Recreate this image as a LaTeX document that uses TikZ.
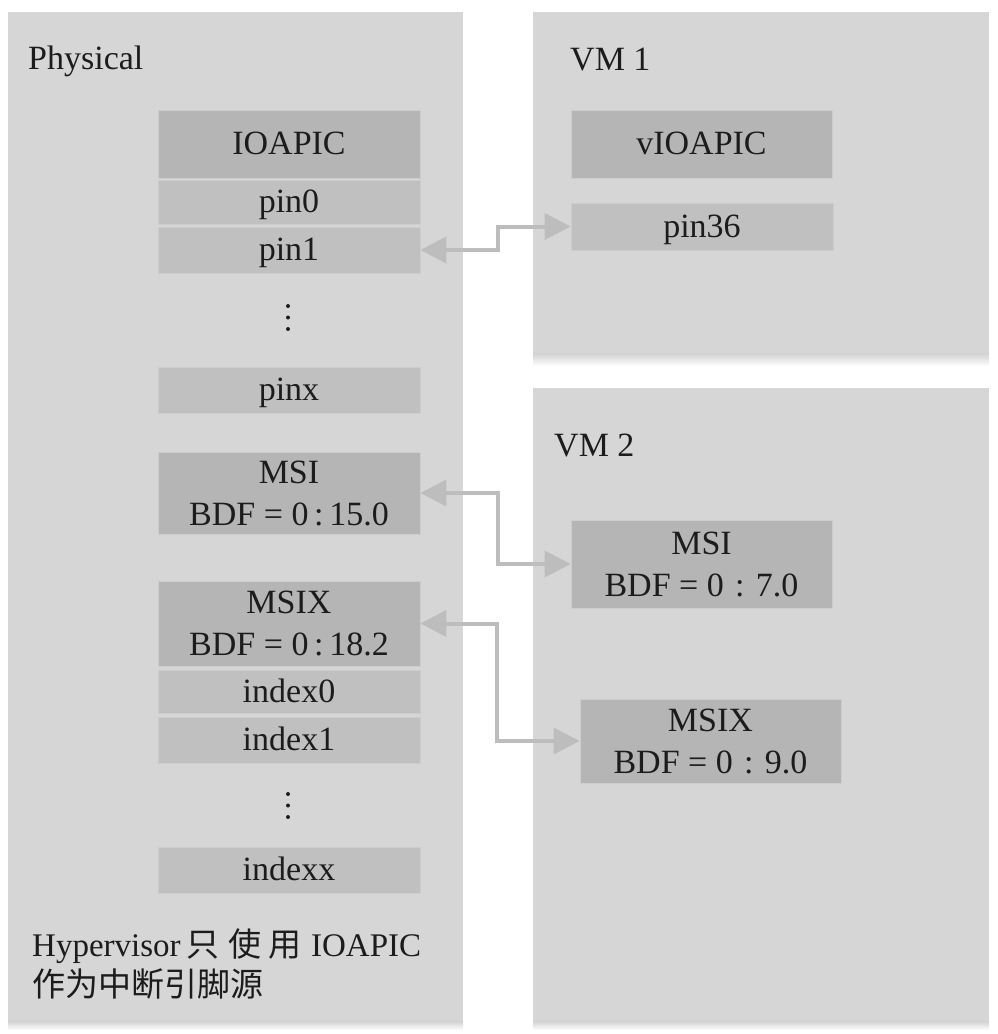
\documentclass[tikz,border=0pt]{standalone}
\usepackage{fontspec}
\setmainfont{Liberation Serif}
\newfontfamily\cjk{Noto Sans CJK SC}
\usetikzlibrary{arrows.meta}
\definecolor{panel}{HTML}{D6D6D6}
\definecolor{hdr}{HTML}{B6B5B5}
\definecolor{subc}{HTML}{C1C0C0}
\definecolor{edge}{HTML}{CDCDCD}
\definecolor{conncol}{HTML}{BDBDBD}
\definecolor{txt}{HTML}{1C1C1C}
\begin{document}
\begin{tikzpicture}[x=1pt,y=-1pt,
  font=\fontsize{34}{42}\selectfont, text=txt,
  panelbox/.style={fill=panel},
  hdrbox/.style={fill=hdr, draw=edge, line width=0.8pt, minimum width=262pt, inner sep=0pt, align=center},
  subbox/.style={fill=subc, draw=edge, line width=0.8pt, minimum width=262pt, inner sep=0pt, align=center},
  oneline/.style={text height=21pt, text depth=0pt},
  label/.style={anchor=base west, inner sep=0pt},
  dotc/.style={fill=txt},
  conn/.style={draw=conncol, line width=4pt, {Triangle[length=26pt,width=26pt]}-{Triangle[length=26pt,width=26pt]}},
  shadowstrip/.style={top color=black!18, bottom color=white}
]
\useasboundingbox[fill=white] (0,0) rectangle (997,1034);
% panel shadows
\shade[shadowstrip] (8,1021) rectangle (463,1030);
\shade[shadowstrip] (533,353) rectangle (989,366);
\shade[shadowstrip] (533,1021) rectangle (989,1030);
% panels
\fill[panelbox] (8,12) rectangle (463,1021);
\fill[panelbox] (533,12) rectangle (989,353);
\fill[panelbox] (533,388) rectangle (989,1021);

% labels
\node[label] (lphys) at (28,69) {Physical};
\node[label] (lvm1) at (570,70) {VM 1};
\node[label] (lvm2) at (554,456) {VM 2};

% physical boxes
\node[hdrbox, oneline, minimum height=68pt] (ioapic) at (289,144) {IOAPIC};
\node[subbox, oneline, minimum height=44pt] (pin0) at (289,202) {pin0};
\node[subbox, oneline, minimum height=46pt] (pin1) at (289,250) {pin1};
\fill[dotc] (288,306) circle (2pt) (288,317.5) circle (2pt) (288,329) circle (2pt);
\node[subbox, oneline, minimum height=46pt] (pinx) at (289,390) {pinx};
\node[hdrbox, minimum height=82pt] (msi) at (289,493) {MSI\\BDF = 0\,:\,15.0};
\node[hdrbox, minimum height=85pt] (msix) at (289,623.5) {MSIX\\BDF = 0\,:\,18.2};
\node[subbox, oneline, minimum height=43pt] (idx0) at (289,691.5) {index0};
\node[subbox, oneline, minimum height=46pt] (idx1) at (289,740) {index1};
\fill[dotc] (288,794) circle (2pt) (288,805.5) circle (2pt) (288,817) circle (2pt);
\node[subbox, oneline, minimum height=46pt] (idxx) at (289,870) {indexx};

\node[label, align=left, font=\fontsize{33}{40}\selectfont] (note) at (32,996) {Hypervisor\hspace{6pt}{\cjk 只}\hspace{9pt}{\cjk 使}\hspace{7pt}{\cjk 用}\hspace{9.5pt}IOAPIC\\{\cjk 作为中断引脚源}};

% VM1 boxes
\node[hdrbox, oneline, minimum width=261pt, minimum height=68pt] (vioapic) at (701.5,144) {vIOAPIC};
\node[subbox, oneline, minimum width=262pt, minimum height=47pt] (pin36) at (702,226.5) {pin36};

% VM2 boxes
\node[hdrbox, minimum width=261pt, minimum height=88pt] (vmsi) at (701.5,564) {MSI\\BDF = 0\,\,:\,\,7.0};
\node[hdrbox, minimum width=261pt, minimum height=84pt] (vmsix) at (710.5,741) {MSIX\\BDF = 0\,\,:\,\,9.0};

% connectors
\draw[conn] (pin1.east) -- ++(78,0) |- (pin36.west);
\draw[conn] (msi.east) -- ++(78,0) |- (vmsi.west);
\draw[conn] (msix.east) -- ++(77,0) |- (vmsix.west);
\end{tikzpicture}
\end{document}
